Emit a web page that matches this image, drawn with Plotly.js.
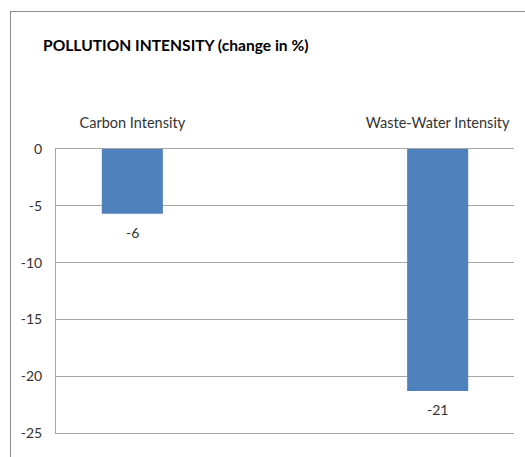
<!DOCTYPE html>
<html><head><meta charset="utf-8">
<script src="https://cdn.plot.ly/plotly-3.0.1.min.js"></script>
<style>
body{margin:0;padding:0;overflow:hidden;background:#fff;}
#wrap{position:relative;width:525px;height:457px;overflow:hidden;}
#frame{position:absolute;left:10px;top:11px;width:600px;height:600px;border:1px solid #8c8c8c;pointer-events:none;}
#chart{position:absolute;left:0;top:0;width:525px;height:457px;}
</style></head>
<body>
<div id="wrap"><div id="chart"></div><div id="frame"></div></div>
<script>
var categories = ["Carbon Intensity", "", "Waste-Water Intensity"];
var values = [-5.7, null, -21.3];
var yTicks = [0, -5, -10, -15, -20, -25];

var FONT = 'Lato, "Open Sans", sans-serif';
var xs = [], ys = [], tv = [], tt = [];
categories.forEach(function(c, i){
  if (values[i] !== null) { xs.push(i); ys.push(values[i]); tv.push(i); tt.push(c); }
});

var trace = {
  type: 'bar', x: xs, y: ys, width: 0.4,
  marker: {color: '#4F81BD'},
  hoverinfo: 'none'
};
var annotations = xs.map(function(x, i){
  return {x: x, y: ys[i], xref: 'x', yref: 'y', text: String(Math.round(ys[i])),
          showarrow: false, yanchor: 'top', yshift: -8,
          font: {family: FONT, size: 14, color: '#333333'}};
});
var layout = {
  width: 525, height: 457,
  margin: {l: 56, r: 11, t: 149, b: 24},
  paper_bgcolor: 'rgba(0,0,0,0)', plot_bgcolor: '#ffffff',
  showlegend: false,
  annotations: annotations,
  title: {text: '<b>POLLUTION INTENSITY (change in %)</b>', x: 43/525, xanchor: 'left', xref: 'container',
          y: 1 - 46/457, yanchor: 'middle', yref: 'container',
          font: {family: FONT, size: 15.6, color: '#000000'}},
  xaxis: {side: 'top', range: [-0.5, categories.length - 0.5], tickmode: 'array', tickvals: tv, ticktext: tt,
          showgrid: false, zeroline: false, showline: true, mirror: true, linecolor: '#a6a6a6', linewidth: 1,
          ticks: '', ticklabelstandoff: 14,
          tickfont: {family: FONT, size: 14.5, color: '#333333'}, fixedrange: true},
  yaxis: {range: [-25, 0], tickmode: 'array', tickvals: yTicks, ticktext: yTicks.map(String),
          showgrid: true, gridcolor: '#a6a6a6', gridwidth: 1, zeroline: false,
          showline: true, linecolor: '#a6a6a6', linewidth: 1, ticks: '', ticklabelstandoff: 10,
          tickfont: {family: FONT, size: 14, color: '#333333'}, fixedrange: true}
};
Plotly.newPlot('chart', [trace], layout, {staticPlot: true, displayModeBar: false});
</script>
</body></html>
